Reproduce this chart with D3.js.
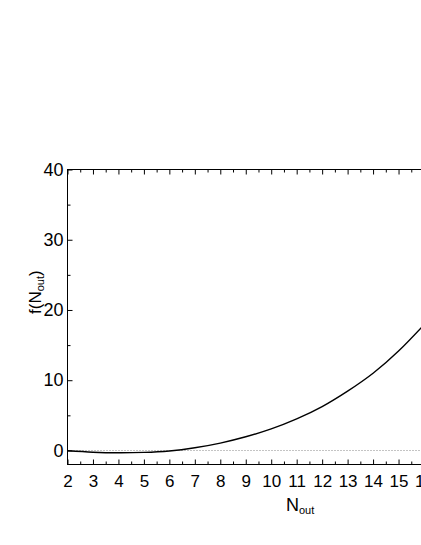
<!DOCTYPE html>
<html>
<head>
<meta charset="utf-8">
<script src="https://cdn.jsdelivr.net/npm/d3@7"></script>
<style>
  html, body { margin: 0; padding: 0; background: #fff; }
  svg { display: block; }
  text { font-family: "Liberation Sans", Arial, Helvetica, sans-serif; fill: #000; }
</style>
</head>
<body>
<div id="chart"></div>
<script>
// values
var nOut = [2, 3, 4, 5, 6, 7, 8, 9, 10, 11, 12, 13, 14, 15, 16];
var fVals = [-0.05, -0.25, -0.33, -0.28, -0.08, 0.38, 1.05, 1.95, 3.07, 4.5, 6.25, 8.45, 11.0, 14.15, 17.9];
var xMajor = [2, 3, 4, 5, 6, 7, 8, 9, 10, 11, 12, 13, 14, 15, 16];
var xMinor = [2.5, 3.5, 4.5, 5.5, 6.5, 7.5, 8.5, 9.5, 10.5, 11.5, 12.5, 13.5, 14.5, 15.5];
var yMajor = [0, 10, 20, 30, 40];
var yMinor = [5, 15, 25, 35];

var width = 421, height = 545;
var plotL = 67.5, plotR = 424, plotT = 169.5, plotB = 464.5;

var svg = d3.select('#chart')
  .append('svg')
  .attr('width', width)
  .attr('height', height);

var x = d3.scaleLinear().domain([2, 16]).range([plotL, plotR]);
var y = d3.scaleLinear().domain([-2, 40]).range([plotB, plotT]);

// zero reference line
svg.append('line')
  .attr('x1', plotL).attr('x2', plotR)
  .attr('y1', Math.round(y(0)) + 0.5).attr('y2', Math.round(y(0)) + 0.5)
  .attr('stroke', '#888')
  .attr('stroke-width', 1)
  .attr('stroke-dasharray', '1,2');

function styleAxis(g) {
  g.select('.domain').remove();
  g.selectAll('line').attr('stroke', '#000').attr('stroke-width', 1);
}

// bottom axis
svg.append('g')
  .attr('transform', 'translate(0,' + plotB + ')')
  .call(d3.axisBottom(x).tickValues(xMajor).tickSize(-5).tickPadding(10)
    .tickFormat(d3.format('d')))
  .call(styleAxis)
  .selectAll('text').style('font-size', '17px');

svg.append('g')
  .attr('transform', 'translate(0,' + plotB + ')')
  .call(d3.axisBottom(x).tickValues(xMinor).tickSize(-3).tickFormat(''))
  .call(styleAxis);

// top axis
svg.append('g')
  .attr('transform', 'translate(0,' + plotT + ')')
  .call(d3.axisTop(x).tickValues(xMajor).tickSize(-5).tickFormat(''))
  .call(styleAxis);

svg.append('g')
  .attr('transform', 'translate(0,' + plotT + ')')
  .call(d3.axisTop(x).tickValues(xMinor).tickSize(-3).tickFormat(''))
  .call(styleAxis);

// left axis
svg.append('g')
  .attr('transform', 'translate(' + plotL + ',0)')
  .call(d3.axisLeft(y).tickValues(yMajor).tickSize(-5).tickPadding(4)
    .tickFormat(d3.format('d')))
  .call(styleAxis)
  .selectAll('text').style('font-size', '18px');

svg.append('g')
  .attr('transform', 'translate(' + plotL + ',0)')
  .call(d3.axisLeft(y).tickValues(yMinor).tickSize(-3).tickFormat(''))
  .call(styleAxis);

// frame
svg.append('rect')
  .attr('x', plotL).attr('y', plotT)
  .attr('width', plotR - plotL).attr('height', plotB - plotT)
  .attr('fill', 'none')
  .attr('stroke', '#000')
  .attr('stroke-width', 1);

// curve
var line = d3.line()
  .x(function(d, i) { return x(nOut[i]); })
  .y(function(d) { return y(d); })
  .curve(d3.curveNatural);

svg.append('path')
  .datum(fVals)
  .attr('d', line)
  .attr('fill', 'none')
  .attr('stroke', '#000')
  .attr('stroke-width', 1.4);

// axis titles
var xt = svg.append('text')
  .attr('x', 286)
  .attr('y', 511)
  .style('font-size', '18px');
xt.append('tspan').text('N');
xt.append('tspan').attr('dy', 3).style('font-size', '11px').text('out');

var yt = svg.append('text')
  .attr('transform', 'translate(41,314) rotate(-90)')
  .style('font-size', '17px');
yt.append('tspan').text('f(N');
yt.append('tspan').attr('dy', 3).style('font-size', '11px').text('out');
yt.append('tspan').attr('dy', -3).text(')');
</script>
</body>
</html>
